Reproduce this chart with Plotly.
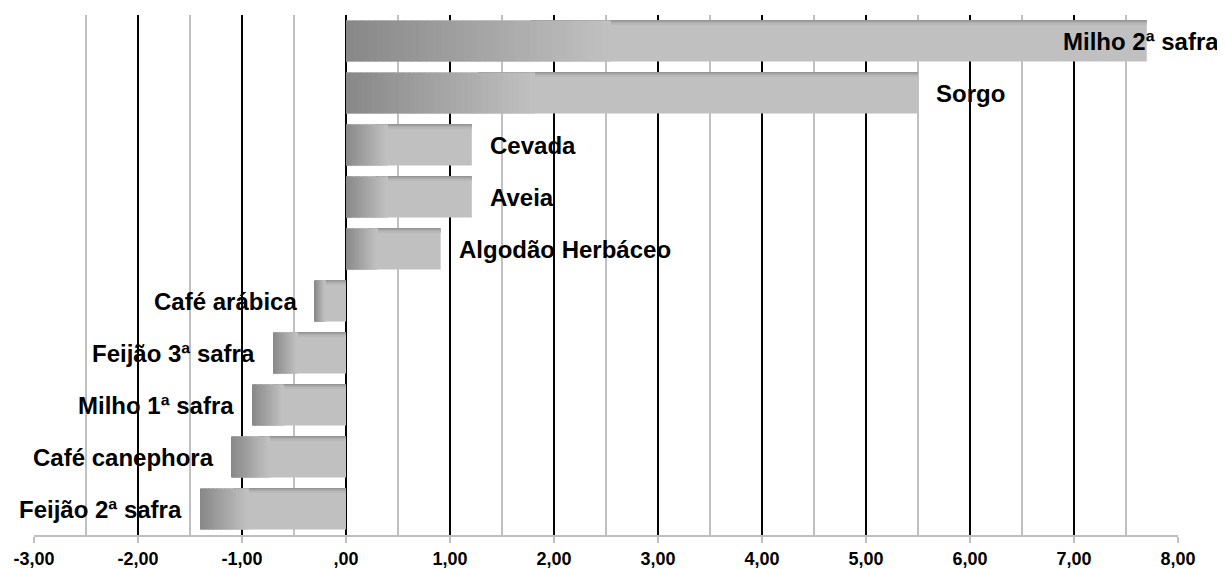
import plotly.graph_objects as go

categories = ["Milho 2ª safra", "Sorgo", "Cevada", "Aveia", "Algodão Herbáceo",
              "Café arábica", "Feijão 3ª safra", "Milho 1ª safra", "Café canephora", "Feijão 2ª safra"]
values = [7.70, 5.50, 1.21, 1.21, 0.91, -0.30, -0.70, -0.90, -1.10, -1.40]
tick_vals = [-3, -2, -1, 0, 1, 2, 3, 4, 5, 6, 7, 8]
tick_text = ["-3,00", "-2,00", "-1,00", ",00", "1,00", "2,00", "3,00", "4,00", "5,00", "6,00", "7,00", "8,00"]

DARK = (136, 136, 136)
LIGHT = (192, 192, 192)
N = 36
FRAC = 0.33
BAR_W = 0.79

def mix(t):
    c = [round(DARK[i] + (LIGHT[i] - DARK[i]) * t) for i in range(3)]
    return f"rgb({c[0]},{c[1]},{c[2]})"

fig = go.Figure()
# full bars (light)
fig.add_trace(go.Bar(y=categories, x=values, orientation="h", width=BAR_W,
                     marker=dict(color=mix(1.0), line=dict(width=0)),
                     hoverinfo="skip", showlegend=False))
lefts = [min(0, v) for v in values]
widths = [abs(v) for v in values]
# darker top edge (vertical shading) on the light part
strip_h = 0.022
for j, t in enumerate([0.25, 0.45, 0.65, 0.85]):
    bases = [l + w * FRAC * 0.7 for l, w in zip(lefts, widths)]
    lens = [w * (1 - FRAC * 0.7) for w in widths]
    fig.add_trace(go.Bar(y=categories, x=lens, base=bases, orientation="h",
                         width=strip_h, offset=-BAR_W / 2 + j * strip_h,
                         marker=dict(color=mix(t), line=dict(width=0)),
                         hoverinfo="skip", showlegend=False))
# horizontal gradient segments from the left edge of each bar
for k in range(N):
    t = k / (N - 1)
    bases = [l + w * FRAC * k / N for l, w in zip(lefts, widths)]
    lens = [w * FRAC / N * 1.1 for w in widths]
    fig.add_trace(go.Bar(y=categories, x=lens, base=bases, orientation="h", width=BAR_W,
                         marker=dict(color=mix(t), line=dict(width=0)),
                         hoverinfo="skip", showlegend=False))

annotations = []
for i, (c, v) in enumerate(zip(categories, values)):
    if i == 0:
        annotations.append(dict(x=v, y=c, text=c, showarrow=False, xanchor="center", xshift=-6))
    elif v >= 0:
        annotations.append(dict(x=v, y=c, text=c, showarrow=False, xanchor="left", xshift=16))
    else:
        annotations.append(dict(x=v, y=c, text=c, showarrow=False, xanchor="right", xshift=-16))
for a in annotations:
    a["font"] = dict(family="Liberation Sans, Arial", size=24, color="black", weight="bold")
    a["yanchor"] = "middle"

fig.update_layout(
    width=1217, height=561,
    margin=dict(l=26, r=47, t=7, b=34),
    barmode="overlay",
    plot_bgcolor="white", paper_bgcolor="white",
    annotations=annotations,
    xaxis=dict(range=[-3, 8], tickvals=tick_vals, ticktext=tick_text,
               automargin=False,
               showgrid=True, gridcolor="black", gridwidth=1.5,
               minor=dict(dtick=0.5, tick0=0, showgrid=True, gridcolor="#c0c0c0", gridwidth=1.5),
               zeroline=False,
               showline=True, linecolor="#bfbfbf", linewidth=2,
               ticks="outside", tickcolor="#bfbfbf", ticklen=6, tickwidth=2,
               tickfont=dict(family="Liberation Sans, Arial", size=18, color="black", weight="bold"),
               fixedrange=True),
    yaxis=dict(categoryorder="array", categoryarray=categories, autorange="reversed",
               automargin=False,
               showticklabels=False, showgrid=False, zeroline=False, showline=False),
)

fig.write_html("out.html")
